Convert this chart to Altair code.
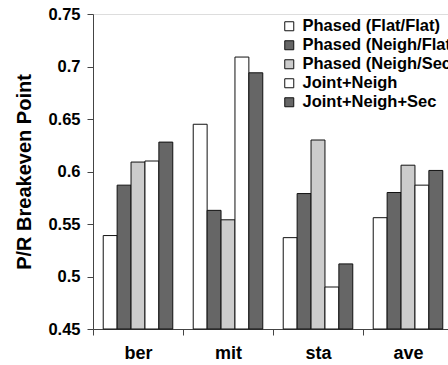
import altair as alt
import pandas as pd

categories = ["ber", "mit", "sta", "ave"]
series = ["Phased (Flat/Flat)", "Phased (Neigh/Flat)", "Phased (Neigh/Sec)",
          "Joint+Neigh", "Joint+Neigh+Sec"]
colors = ["#ffffff", "#666666", "#cccccc", "#ffffff", "#666666"]
values = {
    "Phased (Flat/Flat)":  [0.539, 0.645, 0.537, 0.556],
    "Phased (Neigh/Flat)": [0.587, 0.563, 0.579, 0.580],
    "Phased (Neigh/Sec)":  [0.609, 0.554, 0.630, 0.606],
    "Joint+Neigh":         [0.610, 0.709, 0.490, 0.587],
    "Joint+Neigh+Sec":     [0.628, 0.694, 0.512, 0.601],
}
y_ticks = [0.45, 0.5, 0.55, 0.6, 0.65, 0.7, 0.75]

rows = []
for s in series:
    for c, v in zip(categories, values[s]):
        rows.append({"cat": c, "series": s, "value": v})
df = pd.DataFrame(rows)

FONT = "Liberation Sans"

chart = alt.Chart(df).mark_bar(stroke="#111111", strokeWidth=1).encode(
    x=alt.X("cat:N", sort=categories, title=None,
            scale=alt.Scale(paddingInner=0, paddingOuter=0, range=[0, 360]),
            axis=alt.Axis(labelAngle=0, tickBand="extent", tickSize=6,
                          labelPadding=9, labelFontSize=18, labelFont=FONT,
                          labelFontWeight="bold", labelColor="#000000",
                          domainColor="#444444", tickColor="#444444")),
    xOffset=alt.XOffset("series:N", sort=series,
                        scale=alt.Scale(paddingInner=0, paddingOuter=0.735)),
    y=alt.Y("value:Q", title="P/R Breakeven Point",
            scale=alt.Scale(domain=[0.45, 0.75], zero=False, nice=False),
            axis=alt.Axis(values=y_ticks, format="~g", tickSize=6, labelPadding=7,
                          labelFontSize=16.5, labelFont=FONT, labelFontWeight="bold",
                          labelColor="#000000", titleFontSize=20, titleFont=FONT,
                          titleFontWeight="bold", titleColor="#000000",
                          titlePadding=13, grid=False,
                          domainColor="#444444", tickColor="#444444")),
    y2=alt.datum(0.45),
    color=alt.Color("series:N", sort=series,
                    scale=alt.Scale(domain=series, range=colors),
                    legend=alt.Legend(title=None, orient="none", legendX=188,
                                      legendY=4, symbolType="square",
                                      symbolSize=81, symbolStrokeColor="#111111",
                                      symbolStrokeWidth=1, labelFontSize=16.5,
                                      labelFont=FONT, labelFontWeight="bold",
                                      labelColor="#000000", labelOffset=5,
                                      rowPadding=2, labelLimit=400)),
).properties(
    width=355, height=315,
    autosize=alt.AutoSizeParams(type="none"),
    padding={"left": 93, "top": 14, "right": 0, "bottom": 36},
).configure_view(stroke=None).configure(background="white")

chart.save("out.html", embed_options={"renderer": "svg", "actions": False})
